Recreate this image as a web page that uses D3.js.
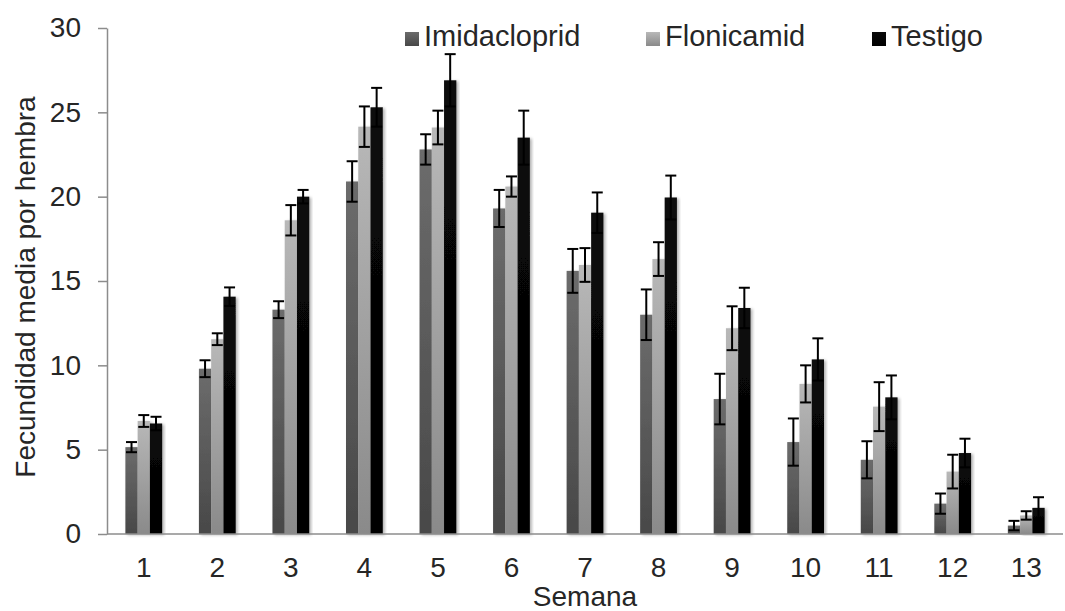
<!DOCTYPE html>
<html>
<head>
<meta charset="utf-8">
<script src="https://cdn.jsdelivr.net/npm/d3@7"></script>
<style>
  html, body { margin: 0; padding: 0; background: #fff; }
  svg { display: block; font-family: "Liberation Sans", Arial, sans-serif; }
</style>
</head>
<body>
<svg id="chart" width="1065" height="611"></svg>
<script>
const weeks = ["1","2","3","4","5","6","7","8","9","10","11","12","13"];
const seriesNames = ["Imidacloprid", "Flonicamid", "Testigo"];
const imidacloprid = [5.15, 9.8, 13.3, 20.9, 22.8, 19.3, 15.6, 13.0, 8.0, 5.45, 4.4, 1.8, 0.5];
const flonicamid   = [6.7, 11.55, 18.6, 24.15, 24.1, 20.6, 15.95, 16.3, 12.2, 8.9, 7.55, 3.7, 1.1];
const testigo      = [6.55, 14.07, 20.0, 25.3, 26.9, 23.5, 19.05, 19.95, 13.4, 10.35, 8.1, 4.8, 1.55];
const imidaclopridErr = [0.3, 0.5, 0.5, 1.2, 0.9, 1.1, 1.3, 1.5, 1.5, 1.4, 1.1, 0.6, 0.28];
const flonicamidErr   = [0.35, 0.35, 0.9, 1.2, 1.0, 0.6, 1.0, 1.0, 1.3, 1.1, 1.45, 1.0, 0.25];
const testigoErr      = [0.4, 0.55, 0.4, 1.15, 1.55, 1.6, 1.2, 1.3, 1.2, 1.25, 1.3, 0.85, 0.63];
const yTicks = [0, 5, 10, 15, 20, 25, 30];

(function () {
const values = [imidacloprid, flonicamid, testigo];
const errors = [imidaclopridErr, flonicamidErr, testigoErr];

const svg = d3.select("#chart");
const pLeft = 107, pRight = 1063, pTop = 28, pBottom = 534;
const textColor = "#262626";
const axisColor = "#8c8c8c";

const defs = svg.append("defs");
const gradStops = [["#6c6c6c", "#484848"], ["#b8b8b8", "#8a8a8a"], ["#0a0a0a", "#000000"]];
gradStops.forEach((s, i) => {
  const g = defs.append("linearGradient").attr("id", "g" + i)
    .attr("x1", 0).attr("y1", 0).attr("x2", 0).attr("y2", 1);
  g.append("stop").attr("offset", "0%").attr("stop-color", s[0]);
  g.append("stop").attr("offset", "100%").attr("stop-color", s[1]);
});
const f = defs.append("filter").attr("id", "shadow")
  .attr("x", "-30%").attr("y", "-10%").attr("width", "160%").attr("height", "120%");
f.append("feDropShadow").attr("dx", 2).attr("dy", 1).attr("stdDeviation", 1.5)
  .attr("flood-color", "#000").attr("flood-opacity", 0.3);

const y = d3.scaleLinear().domain([0, 30]).range([pBottom, pTop]);
const x0 = d3.scaleBand().domain(weeks).range([pLeft, pRight]).paddingInner(0.5).paddingOuter(0.25);
const x1 = d3.scaleBand().domain(seriesNames).range([0, x0.bandwidth()]);

// y axis
const yAxis = svg.append("g").attr("transform", `translate(${pLeft},0)`)
  .call(d3.axisLeft(y).tickValues(yTicks).tickSize(9).tickSizeOuter(0).tickPadding(17));
yAxis.select(".domain").attr("stroke", axisColor).attr("stroke-width", 1.5);
yAxis.selectAll(".tick line").attr("stroke", axisColor).attr("stroke-width", 1.5);
yAxis.selectAll(".tick text").attr("fill", textColor).style("font-size", "28px")
  .style("font-family", "'Liberation Sans', Arial, sans-serif");

// bars + error bars series by series
seriesNames.forEach((name, si) => {
  const g = svg.append("g");
  const data = weeks.map((w, i) => ({ w, v: values[si][i], e: errors[si][i] }));
  g.selectAll("rect").data(data).enter().append("rect")
    .attr("x", d => x0(d.w) + x1(name))
    .attr("y", d => y(d.v))
    .attr("width", x1.bandwidth())
    .attr("height", d => y(0) - y(d.v))
    .attr("fill", `url(#g${si})`)
    .attr("filter", "url(#shadow)");
  const eb = g.selectAll("g.err").data(data).enter().append("g").attr("class", "err");
  const cx = d => x0(d.w) + x1(name) + x1.bandwidth() / 2;
  eb.append("line")
    .attr("x1", cx).attr("x2", cx)
    .attr("y1", d => y(d.v + d.e)).attr("y2", d => y(Math.max(0, d.v - d.e)))
    .attr("stroke", "#000").attr("stroke-width", 2);
  eb.append("line")
    .attr("x1", d => cx(d) - 5.5).attr("x2", d => cx(d) + 5.5)
    .attr("y1", d => y(d.v + d.e)).attr("y2", d => y(d.v + d.e))
    .attr("stroke", "#000").attr("stroke-width", 2);
  eb.append("line")
    .attr("x1", d => cx(d) - 5.5).attr("x2", d => cx(d) + 5.5)
    .attr("y1", d => y(Math.max(0, d.v - d.e))).attr("y2", d => y(Math.max(0, d.v - d.e)))
    .attr("stroke", "#000").attr("stroke-width", 2);
});

// x axis
const xAxis = svg.append("g").attr("transform", `translate(0,${pBottom})`)
  .call(d3.axisBottom(x0).tickSize(0).tickSizeOuter(0));
xAxis.select(".domain").attr("stroke", axisColor).attr("stroke-width", 1.5)
  .attr("d", `M${pLeft},0H${pRight}`);
xAxis.selectAll(".tick text").attr("fill", textColor).style("font-size", "28px")
  .style("font-family", "'Liberation Sans', Arial, sans-serif")
  .attr("y", 43).attr("dy", 0);

// axis titles
svg.append("text").attr("x", (pLeft + pRight) / 2).attr("y", 606)
  .attr("text-anchor", "middle").attr("fill", textColor).style("font-size", "28px")
  .text("Semana");
svg.append("text").attr("transform", "translate(35,287) rotate(-90)")
  .attr("text-anchor", "middle").attr("fill", textColor).style("font-size", "28px")
  .text("Fecundidad media por hembra");

// legend
const legendX = [405, 646, 872];
seriesNames.forEach((name, i) => {
  svg.append("rect").attr("x", legendX[i]).attr("y", 32).attr("width", 14).attr("height", 14)
    .attr("fill", `url(#g${i})`);
  svg.append("text").attr("x", legendX[i] + 19).attr("y", 46)
    .attr("fill", textColor).style("font-size", "29px").text(name);
});
})();
</script>
</body>
</html>
